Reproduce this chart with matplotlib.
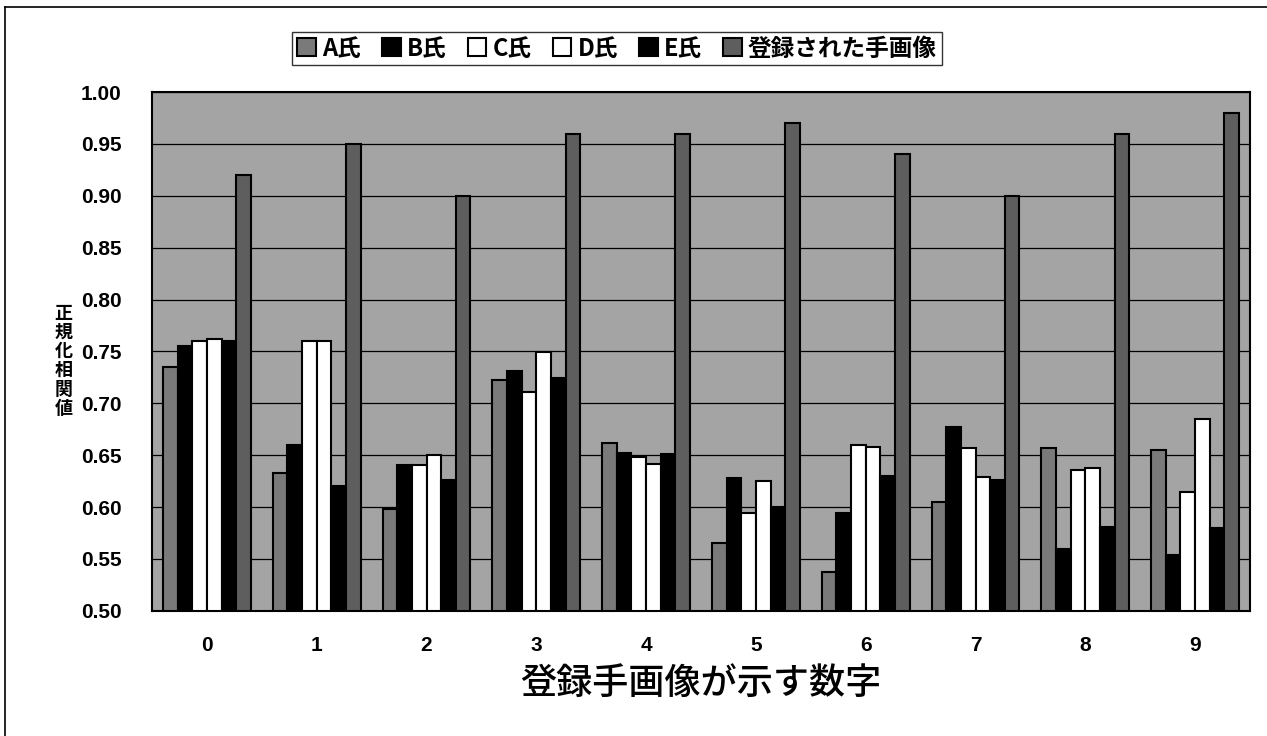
import numpy as np
import matplotlib.pyplot as plt

plt.rcParams['font.family'] = ['Noto Sans CJK JP', 'DejaVu Sans']

digits = ['0', '1', '2', '3', '4', '5', '6', '7', '8', '9']
series_names = ['A氏', 'B氏', 'C氏', 'D氏', 'E氏', '登録された手画像']
a_vals = [0.735, 0.633, 0.598, 0.722, 0.662, 0.565, 0.537, 0.605, 0.657, 0.655]
b_vals = [0.755, 0.660, 0.641, 0.731, 0.652, 0.628, 0.594, 0.677, 0.560, 0.554]
c_vals = [0.760, 0.760, 0.641, 0.711, 0.648, 0.594, 0.660, 0.657, 0.636, 0.615]
d_vals = [0.762, 0.760, 0.650, 0.749, 0.642, 0.625, 0.658, 0.629, 0.638, 0.685]
e_vals = [0.760, 0.620, 0.626, 0.724, 0.651, 0.600, 0.630, 0.626, 0.581, 0.580]
reg_vals = [0.92, 0.95, 0.90, 0.96, 0.96, 0.97, 0.94, 0.90, 0.96, 0.98]

colors = ['#7a7a7a', '#000000', '#ffffff', '#ffffff', '#000000', '#5e5e5e']

fig = plt.figure(figsize=(12.67, 7.36), dpi=100)
ax = fig.add_axes([0.12, 0.17, 0.8666, 0.705])
ax.set_facecolor('#a4a4a4')

x = np.arange(len(digits))
w = 0.8 / 6
all_vals = [a_vals, b_vals, c_vals, d_vals, e_vals, reg_vals]
handles = []
for i, (vals, col, name) in enumerate(zip(all_vals, colors, series_names)):
    h = ax.bar(x - 0.4 + w * (i + 0.5), np.array(vals) - 0.5, width=w, bottom=0.5,
               color=col, edgecolor='black', linewidth=1.5, label=name, zorder=3)
    handles.append(h)

ticks = np.arange(0.5, 1.001, 0.05)
ax.set_ylim(0.5, 1.0)
ax.set_xlim(-0.5, 9.5)
ax.set_yticks(ticks)
ax.set_yticklabels([f'{v:.2f}' for v in ticks],
                   fontsize=15, fontweight='bold', family=['Liberation Sans', 'DejaVu Sans'])
ax.set_xticks(x)
ax.set_xticklabels(digits, fontsize=15, fontweight='bold', family=['Liberation Sans', 'DejaVu Sans'])
ax.tick_params(axis='x', length=0, pad=18)
ax.tick_params(axis='y', length=0, pad=22)
ax.yaxis.grid(True, color='black', linewidth=0.9, zorder=1)
ax.set_axisbelow(True)
for sp in ax.spines.values():
    sp.set_linewidth(1.5)
    sp.set_color('black')

ax.set_xlabel('登録手画像が示す数字', fontsize=26, fontweight='medium', labelpad=8)
fig.text(0.05, 0.51, '正\n規\n化\n相\n関\n値', fontsize=13, fontweight='bold',
         ha='center', va='center', linespacing=1.0)

leg = fig.legend(handles=handles, loc='center', bbox_to_anchor=(0.487, 0.934), ncol=6,
                 frameon=True, fancybox=False, edgecolor='black',
                 handlelength=0.8, handleheight=0.8, handletextpad=0.25, columnspacing=0.9,
                 borderpad=0.2, prop={'weight': 'bold', 'size': 17})
leg.get_frame().set_linewidth(1.0)

# outer frame (left and top edges visible in the scan)
fig.add_artist(plt.Line2D([0.004, 0.004], [0.0, 0.99], transform=fig.transFigure,
                          color='black', linewidth=1.2))
fig.add_artist(plt.Line2D([0.004, 1.0], [0.99, 0.99], transform=fig.transFigure,
                          color='black', linewidth=1.2))

fig.savefig('out.png', dpi=100)
